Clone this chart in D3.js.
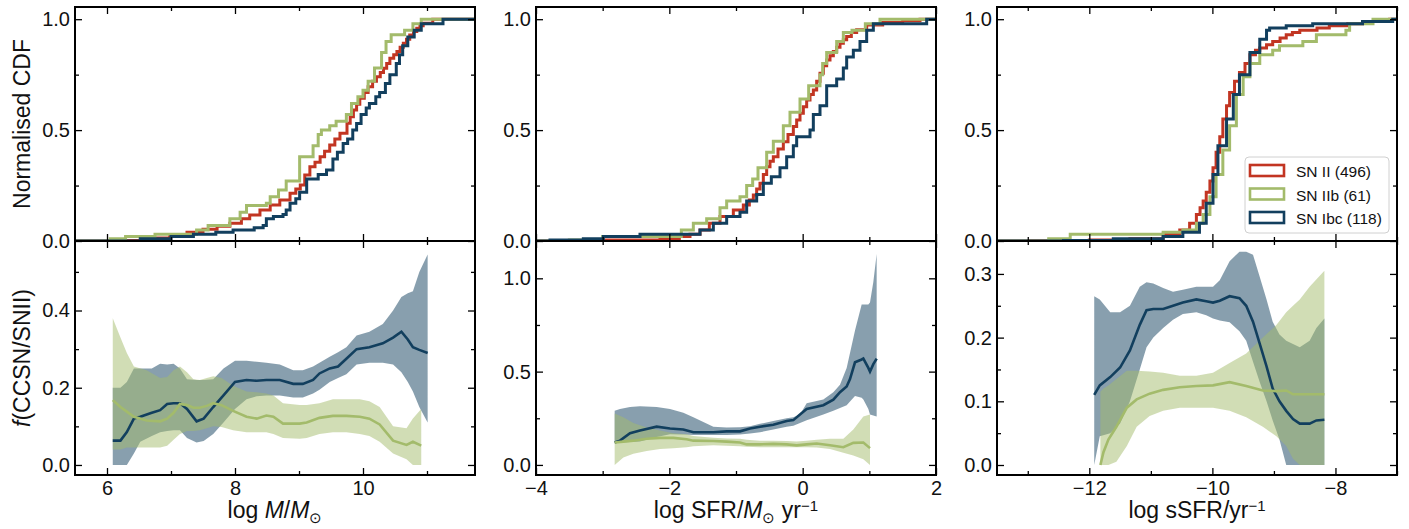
<!DOCTYPE html>
<html>
<head>
<meta charset="utf-8">
<script src="https://cdn.jsdelivr.net/npm/d3@7"></script>
<style>
  body { margin: 0; background: #fff; }
  text { font-family: "Liberation Sans", Arial, sans-serif; fill: #111; }
</style>
</head>
<body>
<div id="chart"></div>
<script>
// series names / legend
var SERIES = ["SN II (496)", "SN IIb (61)", "SN Ibc (118)"];
var COLORS = ["#c23522", "#a3bb6b", "#123f5e"];

// x domains and tick values for the three columns
var XDOMAINS = [[5.5, 11.75], [-4, 2], [-13.5, -7]];
var XMAJOR = [[6, 8, 10], [-4, -2, 0, 2], [-12, -10, -8]];
var XMINOR = [[7, 9, 11], [-3, -1, 1], [-13, -11, -9, -7]];
var CDF_YMAJOR = [0, 0.5, 1.0];
var CDF_YMINOR = [0.25, 0.75];
var FRAC_YDOMAINS = [[-0.026, 0.58], [-0.054, 1.2], [-0.0157, 0.3517]];
var FRAC_YMAJOR = [[0, 0.2, 0.4], [0, 0.5, 1.0], [0, 0.1, 0.2, 0.3]];
var FRAC_YMINOR = [[0.1, 0.3, 0.5], [0.25, 0.75], [0.05, 0.15, 0.25]];

// cumulative distributions [x, cdf]  (stellar mass)
var cdfMassII = [[5.5,0],[6.2,0.002],[6.52,0.005],[6.75,0.014],[6.98,0.027],[7.25,0.04],[7.5,0.053],[7.72,0.066],[7.92,0.08],[8.1,0.1],[8.23,0.117],[8.39,0.14],[8.55,0.162],[8.70,0.185],[8.86,0.215],[8.95,0.235],[9.02,0.253],[9.09,0.298],[9.17,0.335],[9.25,0.355],[9.33,0.38],[9.4,0.405],[9.48,0.433],[9.56,0.46],[9.64,0.486],[9.75,0.531],[9.8,0.56],[9.85,0.591],[9.9,0.617],[9.95,0.644],[10.02,0.67],[10.08,0.696],[10.15,0.72],[10.21,0.741],[10.27,0.76],[10.32,0.779],[10.37,0.8],[10.42,0.824],[10.48,0.84],[10.53,0.854],[10.58,0.874],[10.63,0.892],[10.68,0.91],[10.73,0.929],[10.79,0.945],[10.84,0.959],[10.89,0.97],[10.94,0.982],[11.09,1.0],[11.75,1.0]];
var cdfMassIIb = [[5.5,0],[6.05,0.01],[6.29,0.02],[6.75,0.03],[7.40,0.05],[7.58,0.07],[7.92,0.10],[8.08,0.13],[8.18,0.16],[8.49,0.17],[8.55,0.2],[8.68,0.23],[8.8,0.27],[9.01,0.38],[9.22,0.43],[9.30,0.48],[9.35,0.5],[9.48,0.52],[9.58,0.54],[9.74,0.57],[9.82,0.62],[9.92,0.65],[10.0,0.68],[10.08,0.72],[10.18,0.78],[10.29,0.85],[10.36,0.9],[10.44,0.93],[10.65,0.95],[10.78,0.98],[10.91,1.0],[11.75,1.0]];
var cdfMassIbc = [[5.5,0],[6.52,0.01],[7.0,0.02],[7.35,0.03],[7.7,0.04],[7.97,0.05],[8.3,0.06],[8.44,0.07],[8.49,0.1],[8.6,0.11],[8.75,0.12],[8.8,0.14],[8.86,0.17],[8.95,0.19],[9.01,0.22],[9.12,0.28],[9.3,0.3],[9.43,0.32],[9.53,0.37],[9.6,0.4],[9.69,0.44],[9.76,0.46],[9.84,0.5],[9.9,0.53],[9.97,0.57],[10.05,0.6],[10.10,0.62],[10.2,0.65],[10.26,0.67],[10.35,0.71],[10.42,0.75],[10.52,0.8],[10.57,0.84],[10.62,0.88],[10.70,0.92],[10.8,0.95],[10.91,0.98],[11.25,1.0],[11.75,1.0]];

// cumulative distributions (SFR)
var cdfSfrII = [[-4,0],[-3.0,0.005],[-2.14,0.01],[-1.85,0.02],[-1.69,0.03],[-1.54,0.05],[-1.4,0.08],[-1.24,0.11],[-1.04,0.14],[-0.89,0.162],[-0.8,0.185],[-0.74,0.207],[-0.69,0.235],[-0.64,0.26],[-0.59,0.3],[-0.54,0.335],[-0.49,0.36],[-0.44,0.38],[-0.37,0.415],[-0.29,0.448],[-0.22,0.48],[-0.14,0.516],[-0.09,0.545],[-0.04,0.576],[0.01,0.605],[0.06,0.636],[0.11,0.66],[0.16,0.681],[0.21,0.72],[0.26,0.756],[0.31,0.79],[0.36,0.816],[0.41,0.835],[0.46,0.854],[0.51,0.873],[0.56,0.892],[0.61,0.907],[0.66,0.922],[0.73,0.94],[0.81,0.952],[0.96,0.974],[1.2,0.985],[1.5,0.993],[1.76,1.0],[2,1.0]];
var cdfSfrIIb = [[-4,0],[-3.5,0.005],[-3.0,0.02],[-1.82,0.05],[-1.64,0.08],[-1.44,0.1],[-1.24,0.15],[-1.14,0.18],[-0.94,0.2],[-0.84,0.25],[-0.75,0.28],[-0.67,0.33],[-0.54,0.4],[-0.44,0.45],[-0.29,0.52],[-0.19,0.58],[-0.04,0.64],[0.09,0.7],[0.26,0.75],[0.30,0.8],[0.36,0.85],[0.51,0.9],[0.61,0.94],[0.74,0.95],[0.94,0.98],[1.16,1.0],[2,1.0]];
var cdfSfrIbc = [[-4,0],[-3.79,0.005],[-3.29,0.01],[-2.99,0.02],[-2.44,0.03],[-1.54,0.05],[-1.34,0.08],[-1.14,0.11],[-0.94,0.13],[-0.84,0.18],[-0.69,0.21],[-0.59,0.26],[-0.47,0.29],[-0.34,0.33],[-0.24,0.38],[-0.14,0.43],[-0.09,0.47],[0.11,0.5],[0.16,0.57],[0.26,0.61],[0.36,0.7],[0.51,0.73],[0.61,0.78],[0.66,0.83],[0.76,0.86],[0.86,0.9],[0.96,0.95],[1.06,0.98],[1.86,1.0],[2,1.0]];

// cumulative distributions (sSFR)
var cdfSsfrII = [[-13.5,0],[-12.96,0.001],[-12.0,0.005],[-11.34,0.01],[-10.8,0.03],[-10.53,0.05],[-10.37,0.08],[-10.26,0.12],[-10.2,0.15],[-10.15,0.18],[-10.1,0.22],[-10.04,0.27],[-9.99,0.33],[-9.94,0.4],[-9.88,0.47],[-9.83,0.55],[-9.77,0.61],[-9.72,0.67],[-9.64,0.72],[-9.56,0.76],[-9.47,0.8],[-9.39,0.84],[-9.3,0.86],[-9.23,0.87],[-9.12,0.885],[-9.02,0.9],[-8.9,0.915],[-8.80,0.93],[-8.7,0.94],[-8.58,0.95],[-8.3,0.96],[-8.1,0.97],[-7.8,0.98],[-7.56,0.99],[-7.12,1.0],[-7.0,1.0]];
var cdfSsfrIIb = [[-13.5,0],[-12.66,0.01],[-12.31,0.03],[-10.8,0.04],[-10.48,0.05],[-10.26,0.08],[-10.15,0.12],[-10.04,0.2],[-9.94,0.3],[-9.83,0.41],[-9.72,0.52],[-9.61,0.66],[-9.5,0.74],[-9.39,0.8],[-9.23,0.84],[-9.02,0.86],[-8.91,0.88],[-8.53,0.9],[-8.31,0.93],[-7.83,0.95],[-7.77,0.98],[-7.39,1.0],[-7.0,1.0]];
var cdfSsfrIbc = [[-13.5,0],[-12.42,0.002],[-11.61,0.01],[-10.8,0.02],[-10.48,0.04],[-10.21,0.08],[-10.1,0.17],[-9.99,0.3],[-9.91,0.43],[-9.77,0.55],[-9.66,0.66],[-9.56,0.75],[-9.39,0.85],[-9.23,0.91],[-9.12,0.95],[-9.07,0.96],[-8.8,0.97],[-8.37,0.98],[-7.56,0.99],[-7.07,1.0],[-7.0,1.0]];

// running fractions [x, value, lower, upper]
var fracMassIIb = [[6.09,0.168,0.04,0.38],[6.21,0.15,0.04,0.33],[6.31,0.138,0.045,0.29],[6.42,0.125,0.045,0.255],[6.62,0.115,0.045,0.245],[6.83,0.113,0.045,0.225],[6.94,0.12,0.05,0.228],[7.04,0.135,0.065,0.245],[7.14,0.158,0.08,0.255],[7.25,0.155,0.088,0.24],[7.35,0.148,0.088,0.222],[7.45,0.148,0.09,0.22],[7.56,0.153,0.095,0.225],[7.66,0.16,0.1,0.23],[7.79,0.155,0.098,0.225],[7.97,0.14,0.09,0.205],[8.18,0.125,0.085,0.19],[8.34,0.12,0.085,0.188],[8.49,0.128,0.085,0.185],[8.60,0.125,0.08,0.18],[8.75,0.107,0.07,0.16],[9.01,0.107,0.068,0.155],[9.12,0.11,0.07,0.155],[9.32,0.122,0.08,0.16],[9.53,0.127,0.085,0.17],[9.74,0.127,0.085,0.17],[9.95,0.125,0.08,0.17],[10.10,0.12,0.075,0.165],[10.26,0.105,0.06,0.15],[10.47,0.063,0.03,0.1],[10.68,0.052,0.015,0.095],[10.78,0.06,0.0,0.12],[10.91,0.05,0.0,0.145]];
var fracMassIbc = [[6.09,0.063,0.0,0.2],[6.21,0.063,0.0,0.2],[6.31,0.085,0.0,0.215],[6.42,0.12,0.03,0.25],[6.52,0.125,0.06,0.25],[6.70,0.135,0.075,0.25],[6.83,0.142,0.085,0.262],[6.94,0.158,0.088,0.26],[7.04,0.16,0.09,0.262],[7.14,0.16,0.09,0.25],[7.25,0.145,0.07,0.222],[7.40,0.113,0.058,0.22],[7.51,0.12,0.062,0.22],[7.66,0.15,0.08,0.222],[7.82,0.18,0.11,0.25],[8.0,0.215,0.145,0.27],[8.18,0.22,0.17,0.27],[8.34,0.218,0.178,0.267],[8.49,0.22,0.18,0.265],[8.70,0.22,0.18,0.26],[8.91,0.21,0.175,0.245],[9.06,0.21,0.175,0.245],[9.22,0.22,0.185,0.255],[9.32,0.237,0.195,0.265],[9.48,0.25,0.215,0.28],[9.61,0.255,0.225,0.292],[9.74,0.275,0.235,0.305],[9.90,0.30,0.26,0.335],[10.10,0.305,0.265,0.345],[10.31,0.315,0.265,0.365],[10.47,0.33,0.26,0.40],[10.60,0.345,0.24,0.435],[10.70,0.325,0.215,0.445],[10.78,0.305,0.19,0.45],[10.88,0.298,0.15,0.50],[11.01,0.29,0.11,0.545]];
var fracSfrIIb = [[-2.82,0.12,0.0,0.275],[-2.69,0.125,0.04,0.255],[-2.54,0.13,0.06,0.225],[-2.34,0.14,0.075,0.2],[-2.14,0.145,0.085,0.185],[-1.94,0.145,0.09,0.17],[-1.74,0.138,0.095,0.165],[-1.64,0.13,0.1,0.155],[-1.34,0.128,0.105,0.145],[-1.14,0.125,0.103,0.142],[-0.94,0.12,0.1,0.14],[-0.84,0.11,0.098,0.135],[-0.64,0.11,0.095,0.13],[-0.44,0.113,0.095,0.13],[-0.24,0.11,0.095,0.128],[-0.09,0.105,0.095,0.125],[0.06,0.11,0.095,0.13],[0.21,0.115,0.093,0.135],[0.41,0.105,0.085,0.14],[0.61,0.095,0.065,0.14],[0.76,0.118,0.05,0.19],[0.91,0.12,0.03,0.26],[1.01,0.09,0.0,0.27]];
var fracSfrIbc = [[-2.82,0.12,0.12,0.29],[-2.74,0.13,0.12,0.30],[-2.59,0.17,0.123,0.31],[-2.44,0.185,0.125,0.315],[-2.19,0.205,0.15,0.31],[-1.99,0.195,0.165,0.30],[-1.79,0.19,0.163,0.28],[-1.64,0.175,0.16,0.255],[-1.34,0.175,0.16,0.205],[-1.14,0.18,0.16,0.2],[-0.94,0.18,0.163,0.202],[-0.79,0.195,0.168,0.207],[-0.64,0.205,0.175,0.22],[-0.44,0.215,0.19,0.235],[-0.24,0.235,0.205,0.25],[-0.14,0.24,0.21,0.255],[-0.04,0.27,0.225,0.27],[0.06,0.30,0.24,0.33],[0.31,0.32,0.27,0.35],[0.46,0.35,0.29,0.39],[0.56,0.39,0.305,0.43],[0.66,0.42,0.32,0.52],[0.71,0.46,0.34,0.6],[0.785,0.55,0.37,0.72],[0.885,0.565,0.36,0.86],[0.91,0.57,0.35,0.86],[0.985,0.52,0.30,0.86],[1.01,0.50,0.27,0.87],[1.06,0.54,0.265,0.98],[1.11,0.57,0.26,1.13]];
var fracSsfrIIb = [[-11.82,0.0,0.0,0.115],[-11.77,0.02,0.0,0.12],[-11.69,0.04,0.0,0.125],[-11.56,0.06,0.005,0.135],[-11.39,0.09,0.03,0.148],[-11.23,0.103,0.06,0.148],[-11.02,0.112,0.077,0.147],[-10.80,0.118,0.085,0.145],[-10.53,0.122,0.09,0.14],[-10.26,0.124,0.09,0.14],[-9.99,0.125,0.09,0.145],[-9.72,0.13,0.085,0.16],[-9.45,0.124,0.075,0.175],[-9.18,0.117,0.06,0.2],[-8.96,0.116,0.045,0.22],[-8.80,0.117,0.03,0.24],[-8.69,0.111,0.01,0.25],[-8.58,0.111,0.0,0.26],[-8.42,0.111,0.0,0.28],[-8.18,0.111,0.0,0.305]];
var fracSsfrIbc = [[-11.92,0.11,0.0,0.265],[-11.83,0.125,0.045,0.26],[-11.66,0.138,0.05,0.24],[-11.50,0.153,0.065,0.24],[-11.34,0.18,0.10,0.25],[-11.18,0.22,0.15,0.28],[-11.07,0.243,0.185,0.287],[-10.96,0.245,0.20,0.285],[-10.80,0.245,0.215,0.278],[-10.64,0.25,0.228,0.272],[-10.48,0.255,0.237,0.275],[-10.26,0.26,0.24,0.28],[-10.10,0.257,0.235,0.28],[-9.99,0.255,0.23,0.28],[-9.88,0.258,0.227,0.29],[-9.72,0.265,0.224,0.32],[-9.56,0.262,0.21,0.335],[-9.45,0.25,0.195,0.335],[-9.34,0.225,0.162,0.33],[-9.23,0.19,0.13,0.295],[-9.12,0.155,0.1,0.26],[-9.02,0.12,0.07,0.225],[-8.91,0.10,0.04,0.205],[-8.80,0.085,0.0,0.195],[-8.69,0.072,0.0,0.19],[-8.58,0.065,0.0,0.185],[-8.42,0.065,0.0,0.195],[-8.31,0.07,0.0,0.215],[-8.18,0.071,0.0,0.23]];

var CDFS = [[cdfMassII, cdfMassIIb, cdfMassIbc], [cdfSfrII, cdfSfrIIb, cdfSfrIbc], [cdfSsfrII, cdfSsfrIIb, cdfSsfrIbc]];
var FRACS = [[fracMassIIb, fracMassIbc], [fracSfrIIb, fracSfrIbc], [fracSsfrIIb, fracSsfrIbc]];

var W = 1409, H = 529;
var panelLeft = [75, 536, 997],
    panelW = 400,
    topY = 7,
    midY = 241,
    botY = 475;

var svg = d3.select("#chart").append("svg")
    .attr("width", W)
    .attr("height", H);

var defs = svg.append("defs");

//tick helper - inward major + minor ticks on all four sides
function frameAxes(g, x, y, xMaj, xMin, yMaj, yMin, xLabels, yFmt) {
    var w = panelW, h = y.range()[0] - y.range()[1];

    g.append("g").attr("transform", "translate(0," + h + ")")
        .call(d3.axisBottom(x).tickValues(xMaj).tickSize(-7).tickPadding(6)
            .tickFormat(xLabels ? d3.format("d") : ""));
    g.append("g").attr("transform", "translate(0," + h + ")")
        .call(d3.axisBottom(x).tickValues(xMin).tickSize(-4).tickFormat(""));
    g.append("g")
        .call(d3.axisTop(x).tickValues(xMaj).tickSize(-7).tickFormat(""));
    g.append("g")
        .call(d3.axisTop(x).tickValues(xMin).tickSize(-4).tickFormat(""));

    g.append("g")
        .call(d3.axisLeft(y).tickValues(yMaj).tickSize(-7).tickPadding(5).tickFormat(yFmt));
    g.append("g")
        .call(d3.axisLeft(y).tickValues(yMin).tickSize(-4).tickFormat(""));
    g.append("g").attr("transform", "translate(" + w + ",0)")
        .call(d3.axisRight(y).tickValues(yMaj).tickSize(-7).tickFormat(""));
    g.append("g").attr("transform", "translate(" + w + ",0)")
        .call(d3.axisRight(y).tickValues(yMin).tickSize(-4).tickFormat(""));

    g.selectAll(".domain").remove();
    g.selectAll(".tick line").attr("stroke", "#000").attr("stroke-width", 1.3);
    g.selectAll(".tick text")
        .style("font-family", "'Liberation Sans', Arial, sans-serif")
        .attr("font-size", 20)
        .attr("fill", "#1a1a1a");

    g.append("rect")
        .attr("width", w)
        .attr("height", h)
        .attr("fill", "none")
        .attr("stroke", "#000")
        .attr("stroke-width", 2);
}

var fmt1 = d3.format(".1f");

for (var p = 0; p < 3; p++) {
    var x = d3.scaleLinear().domain(XDOMAINS[p]).range([0, panelW]);

    // ---- top row: CDFs
    var yTop = d3.scaleLinear().domain([0, 1.055]).range([midY - topY, 0]);
    var gTop = svg.append("g")
        .attr("transform", "translate(" + panelLeft[p] + "," + topY + ")");

    defs.append("clipPath").attr("id", "clipTop" + p)
        .append("rect").attr("width", panelW).attr("height", midY - topY);

    var step = d3.line()
        .x(function (d) { return x(d[0]); })
        .y(function (d) { return yTop(d[1]); })
        .curve(d3.curveStepAfter);

    var cdfG = gTop.append("g").attr("clip-path", "url(#clipTop" + p + ")");
    CDFS[p].forEach(function (c, i) {
        cdfG.append("path")
            .datum(c)
            .attr("d", step)
            .attr("fill", "none")
            .attr("stroke", COLORS[i])
            .attr("stroke-width", 3)
            .attr("stroke-linejoin", "miter");
    });

    frameAxes(gTop, x, yTop, XMAJOR[p], XMINOR[p], CDF_YMAJOR, CDF_YMINOR, false, fmt1);

    // ---- bottom row: running fractions with bands
    var yBot = d3.scaleLinear().domain(FRAC_YDOMAINS[p]).range([botY - midY, 0]);
    var gBot = svg.append("g")
        .attr("transform", "translate(" + panelLeft[p] + "," + midY + ")");

    defs.append("clipPath").attr("id", "clipBot" + p)
        .append("rect").attr("width", panelW).attr("height", botY - midY);

    var area = d3.area()
        .x(function (d) { return x(d[0]); })
        .y0(function (d) { return yBot(d[2]); })
        .y1(function (d) { return yBot(d[3]); });
    var line = d3.line()
        .x(function (d) { return x(d[0]); })
        .y(function (d) { return yBot(d[1]); });

    var fG = gBot.append("g").attr("clip-path", "url(#clipBot" + p + ")");
    // Ibc band first, IIb band over it, then the lines
    fG.append("path").datum(FRACS[p][1]).attr("d", area)
        .attr("fill", COLORS[2]).attr("fill-opacity", 0.5);
    fG.append("path").datum(FRACS[p][0]).attr("d", area)
        .attr("fill", COLORS[1]).attr("fill-opacity", 0.5);
    fG.append("path").datum(FRACS[p][1]).attr("d", line)
        .attr("fill", "none").attr("stroke", COLORS[2]).attr("stroke-width", 2.6);
    fG.append("path").datum(FRACS[p][0]).attr("d", line)
        .attr("fill", "none").attr("stroke", COLORS[1]).attr("stroke-width", 2.6);

    frameAxes(gBot, x, yBot, XMAJOR[p], XMINOR[p], FRAC_YMAJOR[p], FRAC_YMINOR[p], true, fmt1);
}

//axis labels
function label(parts, xPos, yPos, rotate) {
    var t = svg.append("text")
        .attr("font-size", 23)
        .attr("text-anchor", "middle")
        .attr("transform", "translate(" + xPos + "," + yPos + ")" + (rotate ? " rotate(-90)" : ""));
    parts.forEach(function (s) {
        var ts = t.append("tspan").text(s.t);
        if (s.i) ts.attr("font-style", "italic");
        if (s.small) ts.attr("font-size", 15);
        if (s.dy) ts.attr("dy", s.dy);
    });
}

var cx = function (p) { return panelLeft[p] + panelW / 2; };

label([{t: "log "}, {t: "M", i: true}, {t: "/"}, {t: "M", i: true}, {t: "\u2299", small: true, dy: 5}], cx(0), 518);
label([{t: "log SFR/"}, {t: "M", i: true}, {t: "\u2299", small: true, dy: 5}, {t: " yr", dy: -5}, {t: "\u22121", small: true, dy: -7}], cx(1), 518);
label([{t: "log sSFR/yr"}, {t: "\u22121", small: true, dy: -7}], cx(2), 518);
label([{t: "Normalised CDF"}], 30, (topY + midY) / 2, true);
label([{t: "f", i: true}, {t: "(CCSN/SNII)"}], 30, (midY + botY) / 2, true);

//legend in top-right panel
var lg = svg.append("g").attr("transform", "translate(1245,157)");
lg.append("rect")
    .attr("width", 144)
    .attr("height", 76)
    .attr("rx", 4)
    .attr("fill", "#fff")
    .attr("fill-opacity", 0.8)
    .attr("stroke", "#d0d0d0");

var items = lg.selectAll("g.legend")
    .data(SERIES)
    .enter().append("g")
    .attr("class", "legend")
    .attr("transform", function (d, i) { return "translate(0," + (i * 23.5) + ")"; });

items.append("rect")
    .attr("x", 5)
    .attr("y", 8)
    .attr("width", 34)
    .attr("height", 11)
    .attr("fill", "#fff")
    .attr("stroke", function (d, i) { return COLORS[i]; })
    .attr("stroke-width", 2.6);

items.append("text")
    .attr("x", 51)
    .attr("y", 20)
    .attr("font-size", 15.5)
    .text(function (d) { return d; });
</script>
</body>
</html>
